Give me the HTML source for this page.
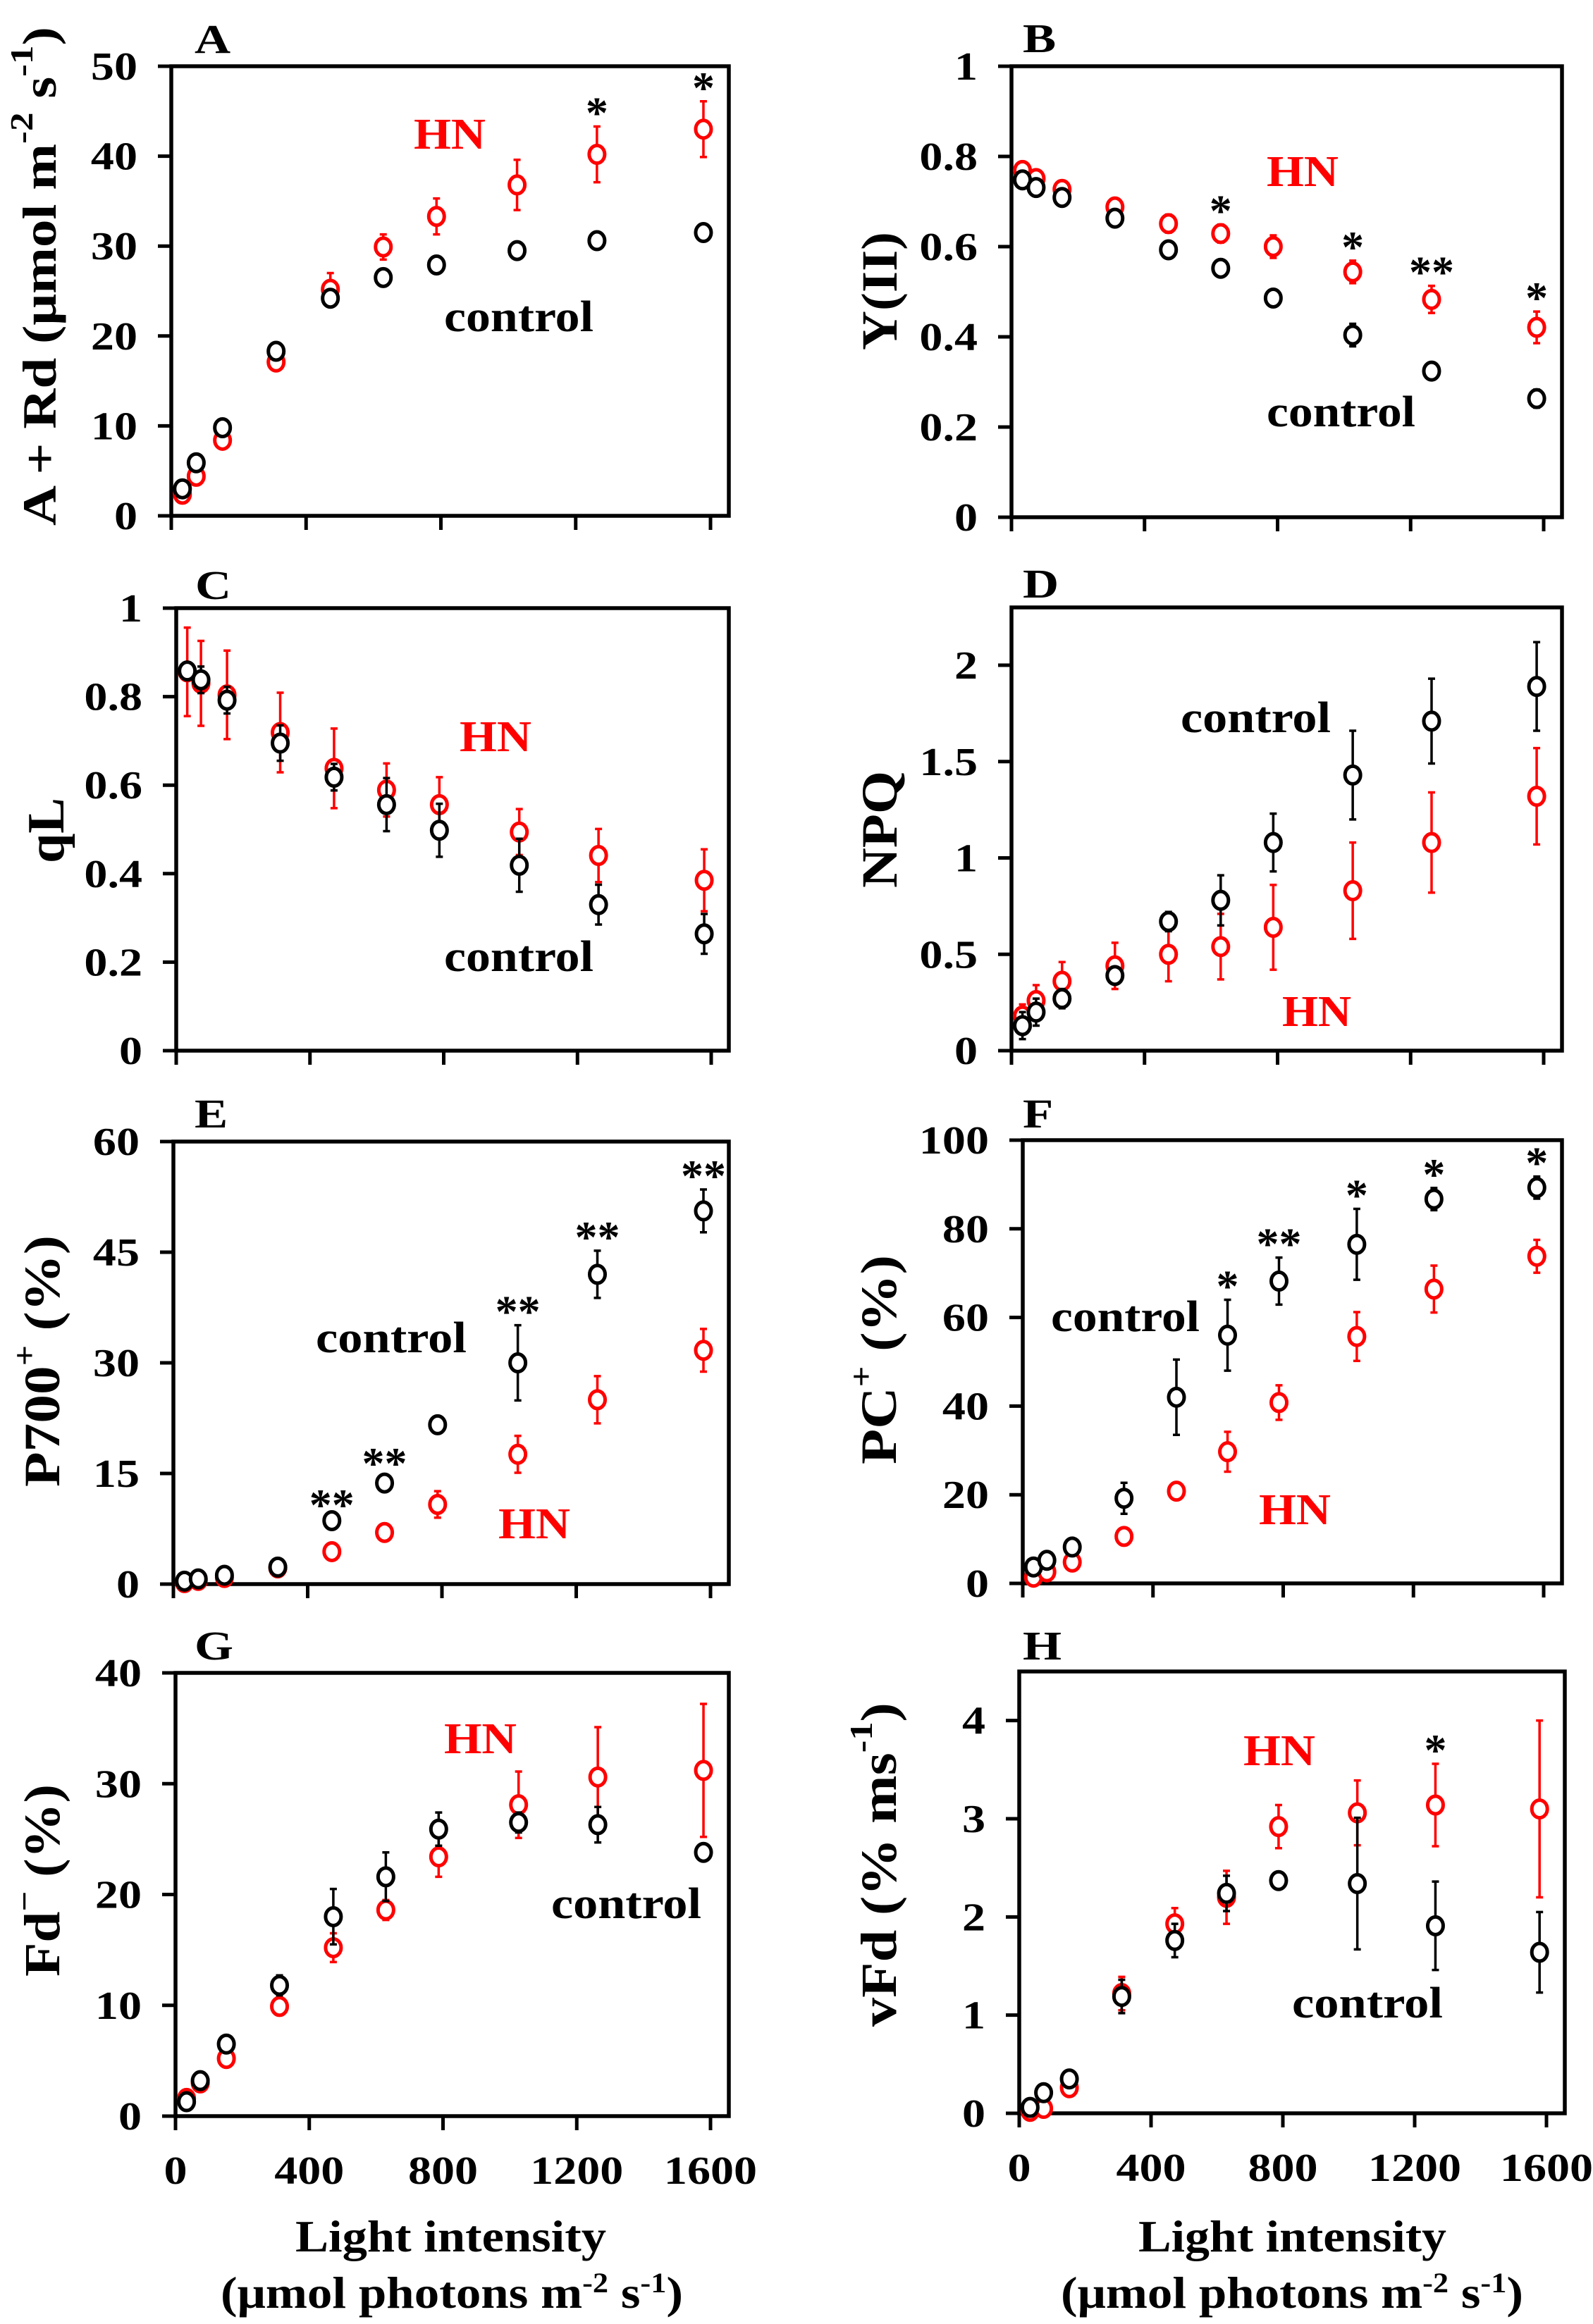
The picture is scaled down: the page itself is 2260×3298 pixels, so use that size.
<!DOCTYPE html>
<html><head><meta charset="utf-8"><style>
html,body{margin:0;padding:0;background:#fff;}
svg{display:block;font-family:"Liberation Serif",serif;font-weight:bold;}
text{font-family:"Liberation Serif",serif;}
</style></head><body>
<svg id="fig" width="2260" height="3298" viewBox="0 0 2260 3298" xmlns="http://www.w3.org/2000/svg" font-family="Liberation Serif, serif" font-weight="bold"></svg>
<script>
// ---- shared data ----
const lightLevels = [33, 74, 152, 311, 472, 629, 787, 1026, 1263, 1579];
const xTickLabels = ['0','400','800','1200','1600'];
const xTickValues = [0,400,800,1200,1600];

// A: A + Rd
const aCtrl = [3.0,5.9,9.8,18.3,24.2,26.5,27.9,29.5,30.6,31.5];
const aCtrlErr = [0.2,0.2,0.2,0.3,0.4,0.4,0.3,0.4,0.8,0.5];
const aHN = [2.4,4.4,8.4,17.1,25.2,29.9,33.3,36.8,40.2,43.0];
const aHNErr = [0.2,0.3,0.4,0.4,1.8,1.4,2.0,2.8,3.1,3.1];
const aStars = ['','','','','','','','','*','*'];
const aTicks = [0,10,20,30,40,50];

// B: Y(II)
const bCtrl = [0.748,0.731,0.709,0.663,0.593,0.552,0.486,0.404,0.324,0.263];
const bCtrlErr = [0.005,0.005,0.005,0.008,0.012,0.012,0.01,0.025,0.015,0.02];
const bHN = [0.769,0.751,0.727,0.688,0.651,0.629,0.600,0.544,0.483,0.421];
const bHNErr = [0.005,0.005,0.006,0.01,0.02,0.02,0.025,0.025,0.03,0.035];
const bStars = ['','','','','','*','','*','**','*'];
const bTicks = [0,0.2,0.4,0.6,0.8,1];

// C: qL
const cCtrl = [0.858,0.838,0.792,0.695,0.618,0.556,0.498,0.419,0.330,0.264];
const cCtrlErr = [0.01,0.03,0.03,0.04,0.03,0.06,0.06,0.06,0.045,0.045];
const cHN = [0.856,0.830,0.804,0.719,0.638,0.589,0.556,0.494,0.441,0.385];
const cHNErr = [0.1,0.096,0.1,0.09,0.09,0.06,0.062,0.052,0.06,0.07];
const cStars = ['','','','','','','','','',''];
const cTicks = [0,0.2,0.4,0.6,0.8,1];

// D: NPQ
const dCtrl = [0.13,0.20,0.27,0.39,0.67,0.78,1.08,1.43,1.71,1.89];
const dCtrlErr = [0.07,0.07,0.05,0.03,0.05,0.13,0.15,0.23,0.22,0.23];
const dHN = [0.18,0.26,0.36,0.44,0.50,0.54,0.64,0.83,1.08,1.32];
const dHNErr = [0.06,0.08,0.1,0.12,0.14,0.17,0.22,0.25,0.26,0.25];
const dStars = ['','','','','','','','','',''];
const dTicks = [0,0.5,1,1.5,2];

// E: P700+
const eCtrl = [0.4,0.7,1.2,2.3,8.6,13.7,21.6,30.0,42.0,50.6];
const eCtrlErr = [0.1,0.1,0.2,0.2,0.3,0.8,0.6,5.1,3.2,2.9];
const eHN = [0.2,0.5,0.9,2.2,4.4,7.0,10.8,17.6,25.0,31.7];
const eHNErr = [0.1,0.1,0.1,0.2,0.3,0.4,1.8,2.5,3.2,2.9];
const eStars = ['','','','','**','**','','**','**','**'];
const eTicks = [0,15,30,45,60];

// F: PC+
const fCtrl = [3.7,5.2,8.2,19.2,42.0,56.0,68.2,76.5,86.7,89.3];
const fCtrlErr = [0.5,0.5,0.8,3.5,8.5,8.0,5.3,8.0,2.5,2.5];
const fHN = [1.4,2.6,4.8,10.6,20.8,29.7,40.8,55.7,66.4,73.8];
const fHNErr = [0.3,0.4,0.5,0.6,0.8,4.5,3.9,5.5,5.3,3.7];
const fStars = ['','','','','','*','**','*','*','*'];
const fTicks = [0,20,40,60,80,100];

// G: Fd-
const gCtrl = [1.3,3.2,6.5,11.8,18.0,21.6,25.9,26.5,26.3,23.8];
const gCtrlErr = [0.2,0.2,0.3,0.9,2.5,2.2,1.5,0.9,1.6,0.3];
const gHN = [1.6,3.0,5.2,9.9,15.2,18.6,23.4,28.1,30.6,31.2];
const gHNErr = [0.2,0.2,0.3,0.3,1.3,0.9,1.8,3.0,4.5,6.0];
const gStars = ['','','','','','','','','',''];
const gTicks = [0,10,20,30,40];

// H: vFd
const hCtrl = [0.06,0.21,0.35,1.19,1.76,2.24,2.37,2.34,1.91,1.64];
const hCtrlErr = [0.02,0.03,0.04,0.17,0.17,0.18,0.04,0.67,0.45,0.41];
const hHN = [0.02,0.05,0.26,1.22,1.93,2.20,2.92,3.06,3.14,3.10];
const hHNErr = [0.01,0.02,0.08,0.17,0.16,0.27,0.22,0.33,0.42,0.9];
const hStars = ['','','','','','','','','*',''];
const hTicks = [0,1,2,3,4];

const NS = 'http://www.w3.org/2000/svg';
const svg = document.getElementById('fig');
function mk(tag, attrs, parent){
  const e = document.createElementNS(NS, tag);
  if (tag === 'text') { e.setAttribute('font-family', 'Liberation Serif, serif'); e.setAttribute('font-weight', 'bold'); }
  for (const k in attrs) e.setAttribute(k, attrs[k]);
  (parent||svg).appendChild(e);
  return e;
}

function drawPanel(p){
  const g = mk('g', {});
  
  
  const sx = v => p.L + v/1600*(p.X16 - p.L);
  const sy = v => p.B - v/p.ymax*(p.B - p.T);

  const fr = mk('rect', {x:p.L, y:p.T, width:p.R-p.L, height:p.B-p.T, fill:'none', stroke:'#000', 'stroke-width':5.5}, g);
  
  

  p.yTicks.forEach(t => {
    const y = sy(t);
    const tk = mk('line', {x1:p.L-19, x2:p.L, y1:y, y2:y, stroke:'#000', 'stroke-width':5}, g);
    
    
    const lb = mk('text', {x:0, y:0, transform:`translate(${p.L-48},${y+19}) scale(1.18,1)`, 'text-anchor':'end', 'font-size':56}, g);
    lb.textContent = String(t);
    
    
  });
  xTickValues.forEach((t,i) => {
    const x = sx(t);
    const tk = mk('line', {x1:x, x2:x, y1:p.B, y2:p.B+20, stroke:'#000', 'stroke-width':5}, g);
    
    
    if (p.xLabels){
      const lb = mk('text', {x:0, y:0, transform:`translate(${x},${p.B+96}) scale(1.18,1)`, 'text-anchor':'middle', 'font-size':56}, g);
      lb.textContent = xTickLabels[i];
      
      
    }
  });

  const series = [
    {vals:p.hn, errs:p.hnErr, color:'#ff0000', name:'hn'},
    {vals:p.ctrl, errs:p.ctrlErr, color:'#000000', name:'control'}
  ];
  series.forEach(s => {
    s.vals.forEach((v,i) => {
      const x = sx(lightLevels[i]);
      const y = sy(v);
      const e = s.errs[i];
      const ytop = sy(v+e), ybot = sy(Math.max(0, v-e));
      const eb = mk('path', {d:`M${x},${ytop}V${ybot}M${x-5},${ytop}H${x+5}M${x-5},${ybot}H${x+5}`, stroke:s.color, 'stroke-width':3.5, fill:'none'}, g);
      
      
      const c = mk('ellipse', {cx:x, cy:y, rx:11, ry:12.5, fill:'#fff', stroke:s.color, 'stroke-width':5}, g);
      
      
    });
  });

  p.stars.forEach((st,i) => {
    if (!st) return;
    const top = Math.max(p.ctrl[i]+p.ctrlErr[i], p.hn[i]+p.hnErr[i]);
    const t = mk('text', {x:sx(lightLevels[i]), y:sy(top)+2, 'text-anchor':'middle', 'font-size':64}, g);
    t.textContent = st;
    
    
  });

  const pl = mk('text', {x:0, y:0, transform:`translate(${p.letter[0]},${p.letter[1]}) scale(1.22,1)`, 'font-size':58}, g);
  pl.textContent = p.id;
  
  

  const hl = mk('text', {x:p.hnLab[0], y:p.hnLab[1], 'font-size':62, fill:'#ff0000', textLength:p.hnLab[2]-p.hnLab[0], lengthAdjust:'spacingAndGlyphs'}, g);
  hl.textContent = 'HN';
  
  
  const cl = mk('text', {x:p.ctlLab[0], y:p.ctlLab[1], 'font-size':62, fill:'#000', textLength:p.ctlLab[2]-p.ctlLab[0], lengthAdjust:'spacingAndGlyphs'}, g);
  cl.textContent = 'control';
  
  

  const yt = mk('text', {x:0, y:0, 'font-size':p.yt[4]||70, 'text-anchor':'middle', 'dominant-baseline':'central',
     transform:`translate(${p.yt[0]},${(p.yt[1]+p.yt[2])/2}) rotate(-90)`, textLength:p.yt[2]-p.yt[1], lengthAdjust:'spacingAndGlyphs'}, g);
  yt.innerHTML = p.yt[3];
  
  

  if (p.xTitle){
    const t1 = mk('text', {x:p.xTitle[0], y:3195, 'font-size':64, textLength:p.xTitle[1]-p.xTitle[0], lengthAdjust:'spacingAndGlyphs'}, g);
    t1.textContent = 'Light intensity';
    
    
    const t2 = mk('text', {x:p.xTitle[2], y:3275, 'font-size':64, textLength:p.xTitle[3]-p.xTitle[2], lengthAdjust:'spacingAndGlyphs'}, g);
    t2.innerHTML = '(μmol photons m<tspan baseline-shift="super" font-size="40">-2</tspan> s<tspan baseline-shift="super" font-size="40">-1</tspan>)';
    
    
  }
}

const SUP = s => `<tspan baseline-shift="super" font-size="46">${s}</tspan>`;

const panels = [
  {id:'A', L:243, R:1034, T:94, B:732, X16:1008, ymax:50, yTicks:aTicks, ctrl:aCtrl, ctrlErr:aCtrlErr, hn:aHN, hnErr:aHNErr, stars:aStars,
   letter:[276,75], hnLab:[587,211,689], ctlLab:[630,470,842], yt:[56,38,746,'A + Rd (μmol m'+SUP('-2')+' s'+SUP('-1')+')',68]},
  {id:'B', L:1435, R:2216, T:94, B:734, X16:2190, ymax:1, yTicks:bTicks, ctrl:bCtrl, ctrlErr:bCtrlErr, hn:bHN, hnErr:bHNErr, stars:bStars,
   letter:[1451,74], hnLab:[1797,264,1899], ctlLab:[1797,605,2008], yt:[1248,329,497,'Y(II)',72]},
  {id:'C', L:250, R:1034, T:863, B:1491, X16:1009, ymax:1, yTicks:cTicks, ctrl:cCtrl, ctrlErr:cCtrlErr, hn:cHN, hnErr:cHNErr, stars:cStars,
   letter:[277,850], hnLab:[652,1066,754], ctlLab:[630,1378,842], yt:[66,1132,1225,'qL',74]},
  {id:'D', L:1435, R:2216, T:862, B:1491, X16:2190, ymax:2.3, yTicks:dTicks, ctrl:dCtrl, ctrlErr:dCtrlErr, hn:dHN, hnErr:dHNErr, stars:dStars,
   letter:[1451,848], hnLab:[1819,1456,1917], ctlLab:[1675,1039,1888], yt:[1248,1094,1260,'NPQ',72]},
  {id:'E', L:246, R:1034, T:1620, B:2248, X16:1008, ymax:60, yTicks:eTicks, ctrl:eCtrl, ctrlErr:eCtrlErr, hn:eHN, hnErr:eHNErr, stars:eStars,
   letter:[276,1600], hnLab:[707,2183,809], ctlLab:[448,1919,662], yt:[60,1753,2110,'P700'+SUP('+')+' (%)',72]},
  {id:'F', L:1451, R:2216, T:1618, B:2247, X16:2190, ymax:100, yTicks:fTicks, ctrl:fCtrl, ctrlErr:fCtrlErr, hn:fHN, hnErr:fHNErr, stars:fStars,
   letter:[1451,1600], hnLab:[1786,2163,1888], ctlLab:[1491,1889,1702], yt:[1247,1781,2078,'PC'+SUP('+')+' (%)',72]},
  {id:'G', L:249, R:1034, T:2374, B:3003, X16:1008, ymax:40, yTicks:gTicks, ctrl:gCtrl, ctrlErr:gCtrlErr, hn:gHN, hnErr:gHNErr, stars:gStars,
   letter:[276,2355], hnLab:[630,2488,733], ctlLab:[782,2722,995], yt:[60,2532,2805,'Fd'+SUP('−')+' (%)',72], xLabels:true, xTitle:[419,860,313,969]},
  {id:'H', L:1446, R:2220, T:2372, B:2999, X16:2194, ymax:4.5, yTicks:hTicks, ctrl:hCtrl, ctrlErr:hCtrlErr, hn:hHN, hnErr:hHNErr, stars:hStars,
   letter:[1451,2355], hnLab:[1764,2505,1866], ctlLab:[1833,2863,2047], yt:[1247,2416,2876,'vFd (% ms'+SUP('-1')+')',72], xLabels:true, xTitle:[1615,2052,1505,2161]}
];
panels.forEach(drawPanel);
</script>
</body></html>
